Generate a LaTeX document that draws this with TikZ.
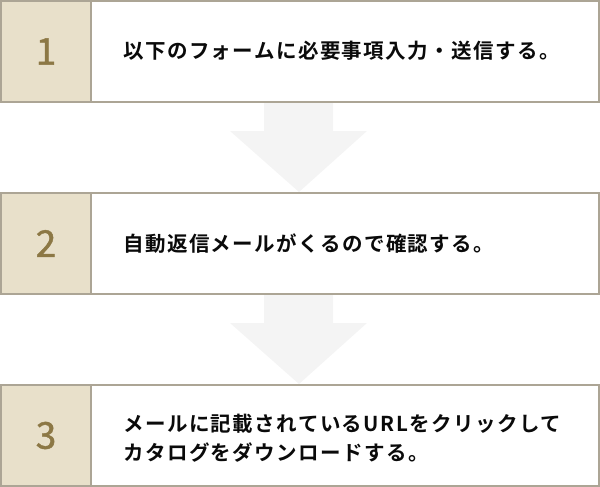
\documentclass[tikz,border=0pt]{standalone}
\usepackage{fontspec}
\setmainfont{Noto Sans CJK JP}
\newfontfamily\jpfont{Noto Sans CJK JP}[BoldFont={* Bold},LetterSpace=7]
\newfontfamily\numfont{Noto Sans CJK JP}[FakeBold=1.2]
\definecolor{frame}{HTML}{ACA595}
\definecolor{cellfill}{HTML}{E8E0CA}
\definecolor{numcol}{HTML}{8C7845}
\definecolor{arrowgray}{HTML}{F4F4F4}
\definecolor{txt}{HTML}{0A0A0A}
\tikzset{
  x=1pt,y=-1pt,
  rowbox/.style={draw=frame,line width=1.5pt,fill=white},
  numcell/.style={draw=frame,line width=1.5pt,fill=cellfill},
  numtext/.style={text=numcol,font=\numfont\fontsize{37}{37}\selectfont,inner sep=0pt},
  steptext/.style={text=txt,anchor=west,align=left,inner sep=0pt,font=\jpfont\bfseries\fontsize{20.5}{29}\selectfont},
  bigarrow/.style={fill=arrowgray,draw=none}
}
\begin{document}
\begin{tikzpicture}
\useasboundingbox (0,0) rectangle (600,487);
% arrows
\foreach \o in {0,192}{
  \fill[bigarrow] (264,102+\o) -- (333,102+\o) -- (333,131+\o) -- (367,131+\o) -- (299,192+\o) -- (230,131+\o) -- (264,131+\o) -- cycle;
}
% row 1
\draw[rowbox] (1,1) rectangle (599,102);
\draw[numcell] (1,1) rectangle (91,102);
\node[numtext] (n1) at (46,51.5) {1};
\node[steptext] (t1) at (123,51) {以下のフォームに必要事項入力・送信する。};
% row 2
\draw[rowbox] (1,193) rectangle (599,294);
\draw[numcell] (1,193) rectangle (91,294);
\node[numtext] (n2) at (46,243.5) {2};
\node[steptext] (t2) at (123,243.5) {自動返信メールがくるので確認する。};
% row 3
\draw[rowbox] (1,385) rectangle (599,486);
\draw[numcell] (1,385) rectangle (91,486);
\node[numtext] (n3) at (46,435.5) {3};
\node[steptext] (t3) at (123,438) {メールに記載されているURLをクリックして\\カタログをダウンロードする。};
\end{tikzpicture}
\end{document}
